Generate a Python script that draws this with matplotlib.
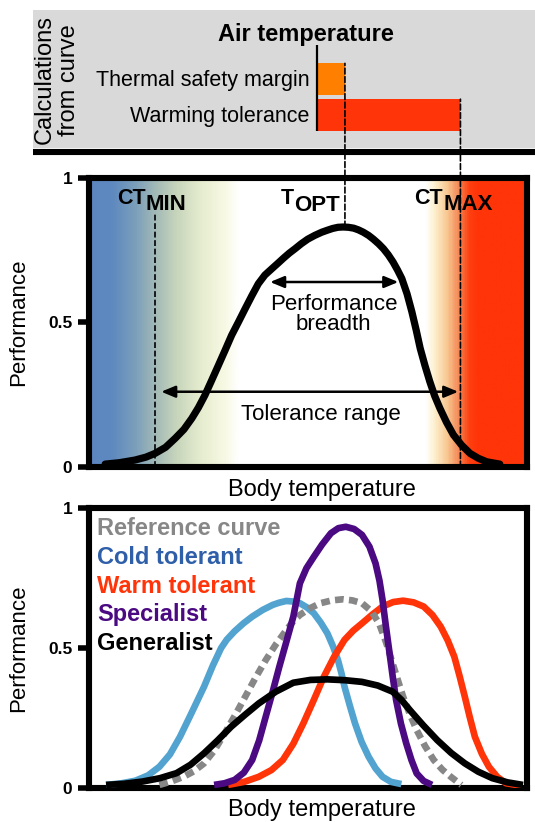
import numpy as np
import matplotlib
matplotlib.use("Agg")
import matplotlib.pyplot as plt
from matplotlib.colors import LinearSegmentedColormap
from matplotlib.patches import ConnectionPatch, Rectangle
from matplotlib.lines import Line2D

plt.rcParams['font.family'] = ['Liberation Sans', 'DejaVu Sans']

# ---------------- data ----------------
top_categories = ["Thermal safety margin", "Warming tolerance"]
air_temperature = 52.2
t_opt = 58.5
ct_min = 15.0
ct_max = 84.9
bar_ends = [t_opt, ct_max]
bar_colors = ["#ff8000", "#ff3408"]

# main thermal performance curve (middle panel)
tpc_x = [3.7, 7.0, 10.5, 13.0, 15.1, 17.5, 19.7, 21.7, 23.5, 25.0, 26.5, 28.0,
         29.6, 31.1, 32.6, 34.2, 35.7, 37.2, 38.7, 40.2, 41.8, 43.2, 44.5, 45.8,
         47.1, 48.5, 50.0, 51.6, 53.2, 54.5, 55.7, 56.9, 58.1, 59.3, 60.5, 61.6,
         62.7, 63.9, 65.0, 66.2, 67.3, 68.4, 69.5, 70.5, 71.5, 72.7, 73.8, 74.8,
         75.7, 76.8, 77.9, 79.0, 80.2, 81.7, 83.3, 85.2, 87.1, 89.0, 90.9, 93.9]
tpc_y = [0.010, 0.015, 0.024, 0.034, 0.047, 0.068, 0.099, 0.130, 0.168, 0.205,
         0.248, 0.298, 0.352, 0.403, 0.455, 0.502, 0.547, 0.591, 0.633, 0.663,
         0.685, 0.704, 0.722, 0.739, 0.754, 0.771, 0.787, 0.800, 0.811, 0.818,
         0.824, 0.828, 0.829, 0.828, 0.825, 0.819, 0.811, 0.800, 0.787, 0.771,
         0.754, 0.733, 0.708, 0.681, 0.651, 0.598, 0.536, 0.472, 0.410, 0.350,
         0.295, 0.246, 0.203, 0.155, 0.111, 0.075, 0.047, 0.030, 0.018, 0.010]

breadth_span = [41.4, 70.7]
breadth_level = 0.639
tolerance_span = [16.5, 84.4]
tolerance_level = 0.26

# bottom panel curves
ref_x = [16.1, 18.9, 21.6, 24.0, 26.3, 28.7, 31.0, 33.4, 35.7, 38.0, 40.4, 42.8,
         45.1, 46.6, 48.2, 50.5, 52.9, 55.5, 58.0, 60.2, 62.4, 64.5, 66.3, 67.9,
         69.4, 70.6, 71.8, 73.3, 74.9, 76.8, 78.8, 80.8, 82.7, 85.1]
ref_y = [0.011, 0.024, 0.040, 0.060, 0.088, 0.135, 0.195, 0.260, 0.326, 0.392,
         0.457, 0.515, 0.564, 0.594, 0.618, 0.642, 0.660, 0.670, 0.674, 0.670,
         0.660, 0.632, 0.588, 0.520, 0.445, 0.385, 0.326, 0.265, 0.207, 0.150,
         0.100, 0.065, 0.040, 0.011]

cold_x = [3.9, 7.5, 10.6, 13.5, 16.1, 18.5, 20.8, 23.5, 26.3, 28.3, 30.2, 31.5,
          33.3, 35.3, 37.3, 39.7, 42.0, 43.5, 45.1, 46.7, 48.2, 49.8, 51.4, 53.0,
          54.5, 55.8, 56.9, 57.7, 58.4, 59.6, 60.8, 62.3, 63.9, 65.5, 67.1, 69.0,
          71.4]
cold_y = [0.011, 0.017, 0.026, 0.045, 0.076, 0.120, 0.183, 0.270, 0.362, 0.437,
          0.500, 0.530, 0.560, 0.588, 0.612, 0.636, 0.654, 0.662, 0.668, 0.666,
          0.660, 0.645, 0.624, 0.590, 0.552, 0.505, 0.457, 0.410, 0.362, 0.295,
          0.231, 0.165, 0.112, 0.070, 0.040, 0.022, 0.014]

warm_x = [31.8, 35.5, 38.8, 41.7, 44.3, 46.7, 49.0, 51.4, 53.7, 56.0, 58.4, 60.4,
          62.4, 64.8, 67.1, 69.5, 71.8, 74.2, 76.5, 78.5, 80.4, 82.0, 83.5, 84.7,
          85.9, 87.0, 88.2, 89.8, 91.4, 93.3, 95.3, 98.8]
warm_y = [0.011, 0.022, 0.040, 0.064, 0.100, 0.158, 0.231, 0.315, 0.398, 0.468,
          0.529, 0.562, 0.588, 0.620, 0.648, 0.664, 0.669, 0.663, 0.648, 0.618,
          0.576, 0.527, 0.469, 0.400, 0.326, 0.255, 0.183, 0.122, 0.076, 0.040,
          0.017, 0.008]

spec_x = [28.6, 31.0, 33.3, 35.4, 37.3, 38.9, 40.4, 42.0, 43.5, 45.1, 46.7, 47.5,
          48.2, 49.7, 51.4, 53.3, 55.3, 57.0, 58.7, 60.6, 62.4, 64.1, 65.5, 66.4,
          67.1, 67.8, 68.6, 69.4, 70.2, 71.3, 72.5, 73.7, 74.9, 76.5, 78.4]
spec_y = [0.011, 0.017, 0.029, 0.055, 0.100, 0.170, 0.255, 0.345, 0.433, 0.522,
          0.612, 0.675, 0.731, 0.785, 0.826, 0.870, 0.910, 0.928, 0.933, 0.925,
          0.904, 0.862, 0.802, 0.740, 0.671, 0.585, 0.493, 0.400, 0.314, 0.230,
          0.160, 0.100, 0.052, 0.025, 0.011]

gen_x = [3.9, 8.0, 12.2, 16.2, 20.0, 23.2, 26.3, 29.4, 32.5, 35.7, 38.8, 42.7,
         46.7, 50.6, 54.5, 58.5, 62.4, 66.0, 69.4, 71.4, 73.3, 76.4, 79.6, 82.8,
         85.9, 89.0, 92.2, 95.7, 99.2]
gen_y = [0.011, 0.015, 0.023, 0.035, 0.053, 0.083, 0.124, 0.170, 0.219, 0.262,
         0.302, 0.344, 0.376, 0.386, 0.388, 0.385, 0.379, 0.366, 0.344, 0.315,
         0.279, 0.224, 0.171, 0.125, 0.088, 0.058, 0.035, 0.020, 0.011]

legend_labels = ["Reference curve", "Cold tolerant", "Warm tolerant", "Specialist", "Generalist"]
legend_colors = ["#878787", "#2f5fa8", "#ff3408", "#4b0a82", "#000000"]
yticks = [0, 0.5, 1]
yticklabels = ["0", "0.5", "1"]

# ---------------- figure ----------------
W, H = 535, 822
fig = plt.figure(figsize=(W / 100, H / 100), dpi=100)

def fx(px):
    return px / W

def fy(py):
    return 1 - py / H

L, R = 89, 526.5
ax_top = fig.add_axes([fx(L), fy(148), fx(R) - fx(L), 138 / H])
ax_mid = fig.add_axes([fx(L), fy(467), fx(R) - fx(L), (467 - 177.5) / H])
ax_bot = fig.add_axes([fx(L), fy(788), fx(R) - fx(L), (788 - 508) / H])

# grey calculation panel
fig.add_artist(Rectangle((fx(33), fy(148)), 1 - fx(33), (148 - 10.5) / H,
                         transform=fig.transFigure, facecolor="#d9d9d9",
                         edgecolor="none", zorder=0))
fig.add_artist(Line2D([fx(33), 1.0], [fy(152), fy(152)], transform=fig.transFigure,
                      color="black", lw=4.4, solid_capstyle="butt", zorder=1))
fig.text(fx(57), fy(80), "Calculations\nfrom curve", rotation=90, ha="center",
         va="center", fontsize=17, linespacing=1.15, multialignment="center")

# top axes: bars
ax_top.set_xlim(0, 100)
ax_top.set_ylim(1.92, -1.933)
ax_top.axis("off")
ax_top.patch.set_visible(False)
rows = np.arange(len(top_categories))
ax_top.barh(rows, [e - air_temperature for e in bar_ends], left=air_temperature,
            height=0.885, color=bar_colors, zorder=2)
ax_top.plot([air_temperature, air_temperature], [-0.955, 1.44], color="black",
            lw=1.6, zorder=3, solid_capstyle="butt")
for r, lab in zip(rows, top_categories):
    ax_top.text(50.4, r + 0.19, lab, ha="right", va="baseline", fontsize=15.5)
ax_top.text(49.6, -1.075, "Air temperature", ha="center", va="baseline",
            fontsize=17, fontweight="bold")

# common axis styling
def style_axes(ax):
    ax.set_xlim(0, 100)
    ax.set_ylim(0, 1)
    for s in ax.spines.values():
        s.set_linewidth(4.4)
    ax.set_xticks([])
    ax.set_yticks(yticks)
    ax.set_yticklabels(yticklabels, fontweight="bold", fontsize=12.5)
    ax.tick_params(axis="y", length=8, width=4, pad=4, direction="out")

style_axes(ax_mid)
style_axes(ax_bot)

# gradient background
cmap = LinearSegmentedColormap.from_list("thermal", [
    (0.00, "#5b86c0"), (0.05, "#5e89bf"), (0.105, "#7c9fba"), (0.15, "#a2b9b6"),
    (0.20, "#c8d6bc"), (0.255, "#e6edcf"), (0.31, "#f8f9e4"), (0.34, "#ffffff"),
    (0.77, "#ffffff"), (0.79, "#fdf1d0"), (0.82, "#f8c690"), (0.845, "#f58a58"),
    (0.87, "#fe4010"), (0.89, "#ff3408"), (1.00, "#ff3408")])
grad = np.linspace(0, 1, 600).reshape(1, -1)
ax_mid.imshow(grad, extent=[0, 100, 0, 1], aspect="auto", cmap=cmap, zorder=0,
              interpolation="bilinear")

ax_mid.plot(tpc_x, tpc_y, color="black", lw=5.2, solid_capstyle="round",
            solid_joinstyle="round", zorder=3)

dash = (0, (3.5, 1.6))
ax_mid.plot([ct_min, ct_min], [0, 0.88], color="black", lw=1.2, linestyle=dash, zorder=2)

peak_y = max(tpc_y)
con1 = ConnectionPatch(xyA=(t_opt, peak_y), coordsA=ax_mid.transData,
                       xyB=(t_opt, 0 - 0.885 / 2), coordsB=ax_top.transData,
                       color="black", lw=1.2, linestyle=dash, zorder=5)
con2 = ConnectionPatch(xyA=(ct_max, 0), coordsA=ax_mid.transData,
                       xyB=(ct_max, 1 - 0.885 / 2), coordsB=ax_top.transData,
                       color="black", lw=1.2, linestyle=dash, zorder=5)
fig.add_artist(con1)
fig.add_artist(con2)

# arrows
arrow_kw = dict(arrowstyle="<|-|>,head_length=0.6,head_width=0.25", lw=1.8,
                color="black", mutation_scale=14, shrinkA=0, shrinkB=0)
ax_mid.annotate("", xy=(breadth_span[0], breadth_level),
                xytext=(breadth_span[1], breadth_level), arrowprops=arrow_kw, zorder=4)
ax_mid.annotate("", xy=(tolerance_span[0], tolerance_level),
                xytext=(tolerance_span[1], tolerance_level), arrowprops=arrow_kw, zorder=4)
ax_mid.text(55.9, 0.544, "Performance", ha="center", va="baseline", fontsize=16, zorder=4)
ax_mid.text(55.9, 0.472, "breadth", ha="center", va="baseline", fontsize=16, zorder=4)
ax_mid.text(52.9, 0.162, "Tolerance range", ha="center", va="baseline", fontsize=16, zorder=4)

# CT labels (main letters + lowered subscripts)
big_kw = dict(fontweight="bold", fontsize=15.5, va="baseline", ha="left", zorder=4)
sub_kw = dict(fontweight="bold", fontsize=16, va="baseline", ha="left", zorder=4)
ax_mid.text(6.4, 0.909, "CT", **big_kw)
ax_mid.text(13.0, 0.889, "MIN", **sub_kw)
ax_mid.text(43.9, 0.907, "T", **big_kw)
ax_mid.text(46.95, 0.886, "OPT", **sub_kw)
ax_mid.text(74.3, 0.909, "CT", **big_kw)
ax_mid.text(81.0, 0.889, "MAX", **sub_kw)

ax_mid.text(53.2, -0.081, "Body temperature", ha="center", va="center",
            fontsize=17, clip_on=False)
fig.text(fx(18.5), fy(322), "Performance", rotation=90, ha="center", va="center",
         fontsize=16)

# bottom panel
lw_b = 4.8
line_kw = dict(lw=lw_b, solid_joinstyle="round", solid_capstyle="butt", zorder=3)
ax_bot.plot(cold_x, cold_y, color="#52a3d0", **line_kw)
ax_bot.plot(warm_x, warm_y, color="#ff3408", **line_kw)
ax_bot.plot(ref_x, ref_y, color="#878787", lw=lw_b, linestyle=(0, (1.3, 0.8)), zorder=3)
ax_bot.plot(spec_x, spec_y, color="#4b0a82", **line_kw)
ax_bot.plot(gen_x, gen_y, color="black", **line_kw)

legend_base = [0.904, 0.800, 0.698, 0.596, 0.493]
for lab, col, yb in zip(legend_labels, legend_colors, legend_base):
    ax_bot.text(1.8, yb, lab, color=col, fontsize=17, fontweight="bold",
                ha="left", va="baseline", zorder=4)

ax_bot.text(53.2, -0.0786, "Body temperature", ha="center", va="center",
            fontsize=17, clip_on=False)
fig.text(fx(18.5), fy(648), "Performance", rotation=90, ha="center", va="center",
         fontsize=16)

fig.savefig("out.png", dpi=100)
